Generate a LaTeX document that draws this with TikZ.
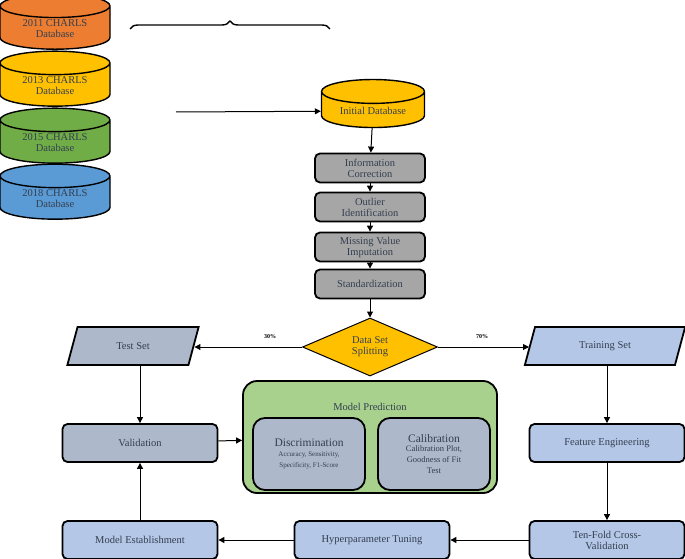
\documentclass[tikz,border=0pt]{standalone}
\usepackage{fontspec}
\setmainfont{Liberation Serif}
\usetikzlibrary{shapes.geometric,arrows.meta,decorations.pathreplacing}
\definecolor{txt}{HTML}{333F50}
\begin{document}
\begin{tikzpicture}[x=1pt,y=-1pt,
  cyl/.style={cylinder,shape border rotate=90,draw,line width=1.4pt,minimum width=110pt,minimum height=55pt,aspect=0.35,text=txt,align=center,font=\fontsize{10.5}{11}\selectfont,inner sep=1pt},
  box/.style={draw,line width=1.8pt,rounded corners=5pt,align=center,text=txt,font=\fontsize{10.5}{11}\selectfont,inner sep=1pt},
  gbox/.style={box,fill=gray!70,minimum width=110pt,minimum height=29pt},
  bbox/.style={box,minimum width=155pt,minimum height=38pt},
  par/.style={trapezium,trapezium left angle=75,trapezium right angle=105,draw,line width=1.8pt,minimum width=125pt,minimum height=38pt,text=txt,font=\fontsize{10.5}{11}\selectfont},
  arr/.style={-{Triangle[length=6pt,width=6pt]},line width=1pt}]
\useasboundingbox (0,0) rectangle (685,559);
\node[cyl,fill={rgb,255:red,237;green,125;blue,49}] (c1) at (55,29) {2011 CHARLS\\Database};
\node[cyl,fill={rgb,255:red,255;green,192;blue,0}] (c2) at (55,86) {2013 CHARLS\\Database};
\node[cyl,fill={rgb,255:red,112;green,173;blue,71}] (c3) at (55,143) {2015 CHARLS\\Database};
\node[cyl,fill={rgb,255:red,91;green,155;blue,213}] (c4) at (55,199) {2018 CHARLS\\Database};
\draw[line width=1.4pt,decorate,decoration={brace,amplitude=8pt}] (130,29) -- (148,29) -- (148,193) -- (130,193);
\coordinate (bs) at (176,112);
\node[cyl,fill={rgb,255:red,255;green,192;blue,0},minimum width=103pt,minimum height=48pt] (init) at (373,111) {Initial Database};
\draw[arr] (bs) -- (init);
\node[gbox] (g1) at (370,168) {Information\\Correction};
\node[gbox] (g2) at (370,207) {Outlier\\Identification};
\node[gbox] (g3) at (370,247) {Missing Value\\Imputation};
\node[gbox] (g4) at (370,284) {Standardization};
\node[diamond,draw,fill={rgb,255:red,255;green,192;blue,0},line width=1pt,aspect=2.3,inner sep=0pt,minimum width=135pt,minimum height=58pt,align=center,text=txt,font=\fontsize{10.5}{11}\selectfont] (d) at (370,347) {Data Set\\Splitting};
\node[par,fill={rgb,255:red,173;green,185;blue,202}] (test) at (133,346) {Test Set};
\node[par,fill={rgb,255:red,180;green,199;blue,231}] (train) at (605,346) {Training Set};
\node[font=\bfseries\fontsize{6}{7}\selectfont] (p30) at (270,337) {30\%};
\node[font=\bfseries\fontsize{6}{7}\selectfont] (p70) at (482,337) {70\%};
\node[bbox,fill={rgb,255:red,173;green,185;blue,202}] (val) at (140,443) {Validation};
\node[bbox,fill={rgb,255:red,180;green,199;blue,231}] (fe) at (607,443) {Feature Engineering};
\node[box,fill={rgb,255:red,169;green,209;blue,142},rounded corners=14pt,minimum width=254pt,minimum height=112pt] (mp) at (370,437) {};
\node[text=txt,font=\fontsize{10.5}{11}\selectfont] (mpt) at (370,407) {Model Prediction};
\node[box,fill={rgb,255:red,173;green,185;blue,202},rounded corners=12pt,minimum width=112pt,minimum height=72pt] (dis) at (309,454) {{\fontsize{11.5}{13}\selectfont Discrimination}\\[-1pt]{\fontsize{7}{8.5}\selectfont Accuracy, Sensitivity,}\\{\fontsize{7}{8.5}\selectfont Specificity, F1-Score}};
\node[box,fill={rgb,255:red,173;green,185;blue,202},rounded corners=12pt,minimum width=112pt,minimum height=72pt] (cal) at (434,454) {{\fontsize{11.5}{13}\selectfont Calibration}\\[-2pt]{\fontsize{8.5}{10}\selectfont Calibration Plot,}\\{\fontsize{8.5}{10}\selectfont Goodness of Fit}\\{\fontsize{8.5}{10}\selectfont Test}};
\node[bbox,fill={rgb,255:red,180;green,199;blue,231}] (me) at (140,540) {Model Establishment};
\node[bbox,fill={rgb,255:red,180;green,199;blue,231}] (hp) at (372,540) {Hyperparameter Tuning};
\node[bbox,fill={rgb,255:red,180;green,199;blue,231}] (tf) at (607,540) {Ten-Fold Cross-\\Validation};
\draw[arr] (init) -- (g1);
\draw[arr] (g1) -- (g2);
\draw[arr] (g2) -- (g3);
\draw[arr] (g3) -- (g4);
\draw[arr] (g4) -- (d);
\draw[arr] (d) -- (test.east|-d);
\draw[arr] (d) -- (train.west|-d);
\draw[arr] (test.south-|val) -- (val);
\draw[arr] (train.south-|fe) -- (fe);
\draw[arr] (fe) -- (tf);
\draw[arr] (tf) -- (hp);
\draw[arr] (hp) -- (me);
\draw[arr] (me) -- (val);
\draw[arr] (val) -- (mp);
\end{tikzpicture}
\end{document}
